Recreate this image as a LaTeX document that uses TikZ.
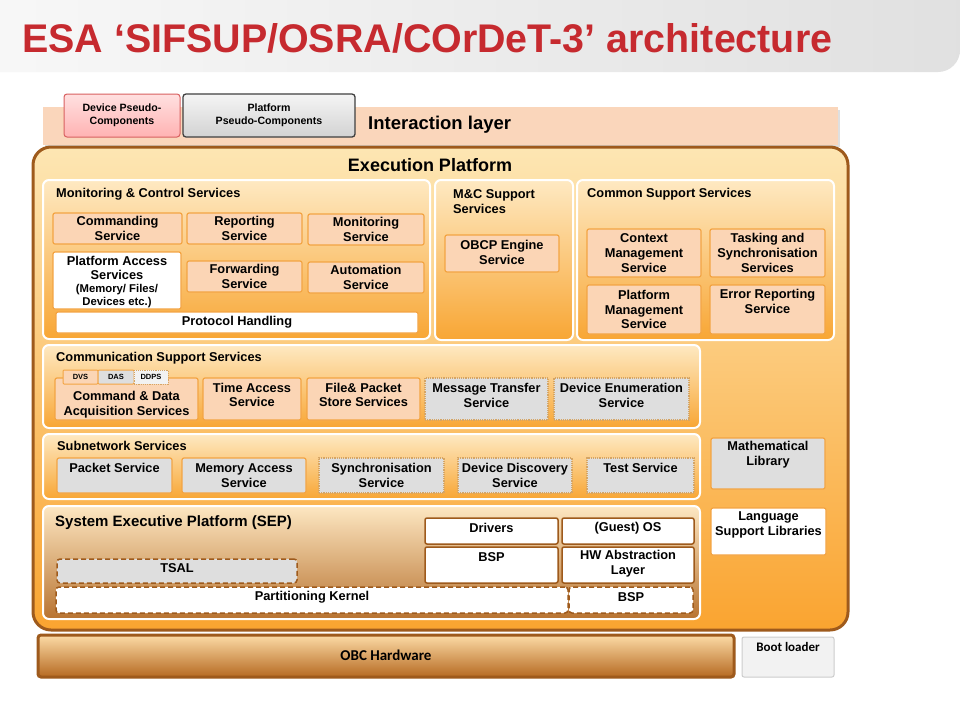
\documentclass[tikz,border=0pt]{standalone}
\usepackage{fontspec}
\setmainfont{Liberation Sans}
\newfontfamily\calib{Carlito}
\definecolor{ttlred}{HTML}{C62A2F}
\definecolor{peach}{HTML}{FBD5B5}
\definecolor{obord}{HTML}{F3A443}
\definecolor{brn}{HTML}{9E5A1C}
\definecolor{cream}{HTML}{FEE9C2}
\definecolor{orng}{HTML}{F8A634}
\definecolor{gry}{HTML}{DEDEDE}
\definecolor{dotc}{HTML}{D5A565}
\definecolor{ilayer}{HTML}{FAD6BB}
\definecolor{eptop}{HTML}{FDE6B3}
\definecolor{epbot}{HTML}{FAA430}
\definecolor{septop}{HTML}{FDE7C2}
\definecolor{sepbot}{HTML}{B87330}
\definecolor{obctop}{HTML}{FCDBA6}
\definecolor{obcbot}{HTML}{B66A22}
\definecolor{pinkb}{HTML}{D86060}
\newcommand{\bx}[8]{%
  \node[#2, minimum width={(#5-#3)*1pt}, minimum height={(#6-#4)*1pt}] (#1) at ({(#3+#5)/2},{(#4+#6)/2}) {};
  \node[txt] (#1-t) at ({(#3+#5)/2},#7) {#8};
}
\begin{document}
\begin{tikzpicture}[x=1pt,y=-1pt,
  panel/.style={draw=white, line width=2pt, rounded corners=6pt, top color=cream, bottom color=orng, inner sep=0pt},
  svc/.style={draw=obord, line width=1.2pt, fill=peach, rounded corners=2pt, inner sep=0pt},
  wbox/.style={draw=obord, line width=1.2pt, fill=white, rounded corners=2pt, inner sep=0pt},
  gsol/.style={draw=obord, line width=1.2pt, fill=gry, rounded corners=2pt, inner sep=0pt},
  gdot/.style={draw=dotc, line width=1.2pt, densely dotted, fill=gry, inner sep=0pt},
  sepw/.style={draw=brn, line width=1.5pt, fill=white, rounded corners=2pt, inner sep=0pt},
  sepd/.style={draw=brn, line width=1.5pt, dash pattern=on 5pt off 3pt, fill=white, rounded corners=3pt, inner sep=0pt},
  sepg/.style={sepd, fill=gry},
  txt/.style={font=\bfseries\fontsize{12.8}{14.8}\selectfont, align=center, inner sep=0pt},
  lbl/.style={font=\bfseries\fontsize{12.8}{14.8}\selectfont, align=left, anchor=west, inner sep=0pt},
  small/.style={font=\bfseries\fontsize{10.6}{13}\selectfont, align=center, inner sep=0pt},
  tab/.style={font=\bfseries\fontsize{7.5}{9}\selectfont, inner sep=0pt}
]
\useasboundingbox (0,0) rectangle (960,720);
\fill[white] (0,0) rectangle (960,720);
% title band
\shade[left color=gray!6, right color=gray!24] (0,0) -- (960,0) -- (960,50) arc[start angle=0, end angle=90, radius=22] -- (0,72) -- cycle;
\node[anchor=base west, inner sep=0pt, text=ttlred, font=\bfseries\fontsize{40}{44}\selectfont] (title) at (22,52) {\scalebox{0.985}[1]{ESA ‘SIFSUP/OSRA/COrDeT-3’ architecture}};
% interaction layer
\fill[gray!25] (45,110) rectangle (840,147);
\node[fill=ilayer, minimum width=795pt, minimum height=38pt, inner sep=0pt] (il) at (440.5,126) {};
\node[anchor=west, inner sep=0pt, font=\bfseries\fontsize{18.5}{20}\selectfont] (il-t) at (368,125) {Interaction layer};
\node[draw=pinkb, line width=1pt, rounded corners=3pt, top color=red!12, bottom color=red!30, minimum width=116pt, minimum height=43pt, inner sep=0pt] (dev) at (122,115.5) {};
\node[small] (dev-t) at (122,115.5) {Device Pseudo-\\Components};
\node[draw=black!75, line width=1.3pt, rounded corners=3pt, top color=gray!8, bottom color=gray!35, minimum width=172pt, minimum height=43pt, inner sep=0pt] (plt) at (269,115.5) {};
\node[small] (plt-t) at (269,115.5) {Platform\\Pseudo-Components};
% execution platform
\node[draw=brn, line width=3pt, rounded corners=18pt, top color=eptop, bottom color=epbot, minimum width=815pt, minimum height=483pt, inner sep=0pt] (ep) at (440.5,388.5) {};
\node[inner sep=0pt, font=\bfseries\fontsize{18}{20}\selectfont] (ep-t) at (430,165) {Execution Platform};
% panels
\node[panel, minimum width=387pt, minimum height=159pt] (mcs) at (236.5,259.5) {};
\node[lbl] (mcs-t) at (56,194) {Monitoring \& Control Services};
\node[panel, minimum width=138pt, minimum height=160pt] (mcsup) at (504,260) {};
\node[lbl] (mcsup-t) at (453,201.5) {M\&C Support\\Services};
\node[panel, minimum width=257pt, minimum height=160pt] (css) at (705.5,260) {};
\node[lbl] (css-t) at (587,194) {Common Support Services};
\node[panel, minimum width=657pt, minimum height=83pt] (comm) at (371.5,386.5) {};
\node[lbl] (comm-t) at (56,358) {Communication Support Services};
\node[panel, minimum width=657pt, minimum height=65pt] (sub) at (371.5,466.5) {};
\node[lbl] (sub-t) at (57,446) {Subnetwork Services};
\node[draw=white, line width=2pt, rounded corners=6pt, top color=septop, bottom color=sepbot, minimum width=657pt, minimum height=113pt, inner sep=0pt] (sep) at (371.5,562.5) {};
\node[lbl, font=\bfseries\fontsize{15}{17}\selectfont] (sep-t) at (55,523) {System Executive Platform (SEP)};
% monitoring & control
\bx{cmd}{svc}{53}{213}{182}{244}{228.5}{Commanding\\Service}
\bx{rep}{svc}{187}{213}{302}{244}{228.5}{Reporting\\Service}
\bx{mon}{svc}{308}{214}{424}{245}{229.5}{Monitoring\\Service}
\bx{pas}{wbox}{53}{252}{181}{309}{268}{Platform Access\\Services}
\node[small, font=\bfseries\fontsize{11.3}{12.5}\selectfont] (pas-s) at (117,296) {(Memory/ Files/\\Devices etc.)};
\bx{fwd}{svc}{187}{261}{302}{292}{276.5}{Forwarding\\Service}
\bx{aut}{svc}{308}{262}{424}{293}{277.5}{Automation\\Service}
\bx{ph}{wbox}{56}{312}{418}{333}{322.5}{Protocol Handling}
% M&C support
\bx{obcp}{svc}{445}{235}{559}{272}{252.5}{OBCP Engine\\Service}
% common support
\bx{ctx}{svc}{587}{229}{701}{277}{253}{Context\\Management\\Service}
\bx{tsk}{svc}{710}{229}{825}{277}{253}{Tasking and\\Synchronisation\\Services}
\bx{pm}{svc}{587}{285}{701}{334}{309.5}{Platform\\Management\\Service}
\bx{err}{svc}{710}{285}{825}{334}{301.5}{Error Reporting\\Service}
% communication support
\bx{cda}{svc}{55}{378}{198}{420}{404.5}{Command \& Data\\Acquisition Services}
\node[svc, line width=1pt, rounded corners=1pt, minimum width=35pt, minimum height=14pt] (dvs) at (80.5,377) {};
\node[tab] (dvs-t) at (80.5,377) {DVS};
\node[gsol, line width=1pt, rounded corners=1pt, minimum width=36pt, minimum height=14pt] (das) at (116,377) {};
\node[tab] (das-t) at (116,377) {DAS};
\node[gdot, line width=1pt, fill=gray!10, minimum width=34pt, minimum height=14pt] (ddps) at (151,377) {};
\node[tab] (ddps-t) at (151,377) {DDPS};
\bx{time}{svc}{203}{378}{301}{420}{395}{Time Access\\Service}
\bx{fps}{svc}{307}{378}{420}{420}{395}{File\& Packet\\Store Services}
\bx{mts}{gdot}{425}{378}{548}{420}{395.5}{Message Transfer\\Service}
\bx{des}{gdot}{554}{378}{689}{420}{395.5}{Device Enumeration\\Service}
% subnetwork
\bx{pkt}{gsol}{57}{458}{172}{493}{468}{Packet Service}
\bx{mas}{gsol}{182}{458}{306}{493}{475.5}{Memory Access\\Service}
\bx{syn}{gdot}{319}{458}{444}{493}{475.5}{Synchronisation\\Service}
\bx{dds}{gdot}{458}{458}{572}{493}{475.5}{Device Discovery\\Service}
\bx{tst}{gdot}{587}{458}{694}{493}{468}{Test Service}
% libraries
\bx{math}{gsol}{711}{438}{825}{489}{455}{Mathematical\\Library}
\bx{lang}{wbox}{711}{508}{826}{555}{525}{Language\\Support Libraries}
% SEP
\bx{drv}{sepw}{425}{518}{558}{544}{528}{Drivers}
\bx{gos}{sepw}{562}{518}{694}{544}{528}{(Guest) OS}
\bx{bsp}{sepw}{425}{547}{558}{583}{557}{BSP}
\bx{hwa}{sepw}{562}{547}{694}{583}{564}{HW Abstraction\\Layer}
\bx{tsal}{sepg}{57}{559}{297}{583}{568}{TSAL}
\bx{pk}{sepd}{56}{587}{568}{613}{597}{Partitioning Kernel}
\bx{bsp2}{sepd}{569}{587}{693}{613}{597}{BSP}
% hardware
\node[draw=brn, line width=3pt, rounded corners=3pt, top color=obctop, bottom color=obcbot, minimum width=696pt, minimum height=42pt, inner sep=0pt] (obc) at (386,656) {};
\node[inner sep=0pt, font=\calib\bfseries\fontsize{15}{17}\selectfont] (obc-t) at (386,655) {OBC Hardware};
\node[draw=gray!40, line width=1pt, fill=gray!10, rounded corners=2pt, minimum width=92pt, minimum height=40pt, inner sep=0pt] (boot) at (788,657) {};
\node[inner sep=0pt, font=\calib\bfseries\fontsize{13}{15}\selectfont] (boot-t) at (788,647) {Boot loader};
\end{tikzpicture}
\end{document}
